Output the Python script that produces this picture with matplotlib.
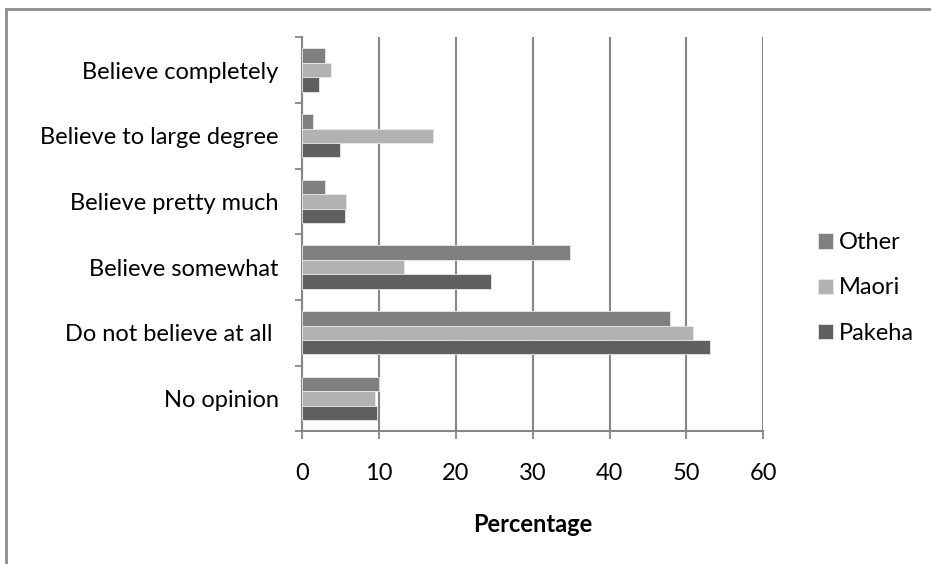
import matplotlib
matplotlib.use("Agg")
import matplotlib.pyplot as plt
import numpy as np
from matplotlib.patches import Rectangle

plt.rcParams["font.family"] = ["Lato", "DejaVu Sans"]

# ---- data ----
categories = ["Believe completely", "Believe to large degree", "Believe pretty much",
              "Believe somewhat", "Do not believe at all ", "No opinion"]
other = [2.9, 1.35, 2.9, 34.9, 47.8, 10.0]
maori = [3.8, 17.0, 5.7, 13.2, 50.9, 9.4]
pakeha = [2.2, 4.9, 5.6, 24.6, 53.0, 9.7]
series = [("Other", other, "#808080"), ("Maori", maori, "#b2b2b2"), ("Pakeha", pakeha, "#606060")]
xticks = [0, 10, 20, 30, 40, 50, 60]

FS = 17
GRID = "#868686"

fig = plt.figure(figsize=(9.31, 5.64), dpi=100)
ax = fig.add_axes([302.3 / 931, 1 - 431.3 / 564, 461 / 931, 394 / 564])

# chart frame (cut off at right/bottom like the reference)
fig.patches.append(Rectangle((6 / 931, -0.1), 1.2, 1 - 9 / 564 + 0.1, transform=fig.transFigure,
                             fill=False, edgecolor="#8c8c8c", lw=2, zorder=0))

y = np.arange(len(categories))
h = 0.22
offsets = [-h, 0, h]
handles = []
for (name, vals, col), off in zip(series, offsets):
    b = ax.barh(y + off, vals, height=h, color=col, edgecolor="#e8e8e8", lw=0.6, zorder=3)
    handles.append(b)

ax.set_xlim(0, 60)
ax.set_ylim(len(categories) - 0.5, -0.5)
ax.set_xticks(xticks)
ax.set_xticklabels([str(t) for t in xticks], fontsize=FS)
ax.set_yticks(y)
ax.set_yticklabels(categories, fontsize=FS)
ax.set_yticks(np.arange(len(categories) + 1) - 0.5, minor=True)
ax.tick_params(axis="y", which="major", length=0, pad=17)
ax.tick_params(axis="y", which="minor", length=5, width=1.3, color=GRID, direction="out")
ax.tick_params(axis="x", length=6, width=1.3, color=GRID, pad=17)

ax.grid(axis="x", color=GRID, lw=1.5, zorder=1)
for s in ["top", "right"]:
    ax.spines[s].set_visible(False)
for s in ["left", "bottom"]:
    ax.spines[s].set_color(GRID)
    ax.spines[s].set_linewidth(1.5)

ax.set_xlabel("Percentage", fontsize=FS, fontweight="bold", labelpad=21)

fig.legend(handles, [s[0] for s in series], loc="center left",
           bbox_to_anchor=(818 / 931, 1 - 288 / 564), frameon=False, fontsize=FS,
           handlelength=0.62, handleheight=0.62, handletextpad=0.25,
           labelspacing=1.03, borderpad=0, borderaxespad=0)

fig.savefig("out.png", dpi=100)
